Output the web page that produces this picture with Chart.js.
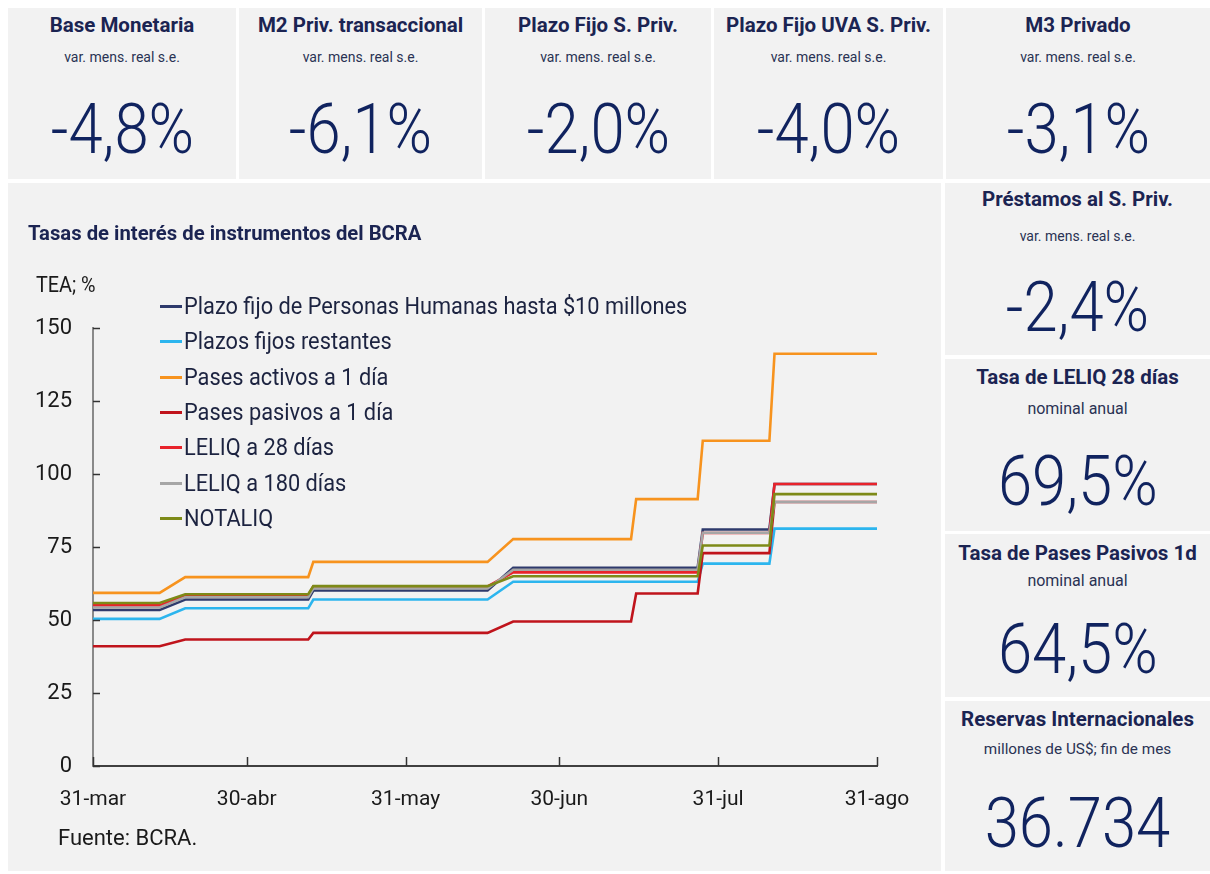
<!DOCTYPE html>
<html lang="es">
<head>
<meta charset="utf-8">
<script src="https://cdn.jsdelivr.net/npm/chart.js@4/dist/chart.umd.min.js"></script>
<style>
  html, body { margin: 0; padding: 0; background: #fff; }
  body { width: 1210px; height: 874px; position: relative; overflow: hidden; font-family: Roboto, "Noto Sans", sans-serif; }
  .card { position: absolute; background: #f2f2f2; }
  .line { position: absolute; left: 0; width: 100%; text-align: center; line-height: 1; white-space: nowrap; }
  .line span { display: inline-block; transform-origin: center; }
  .ttl { font-weight: 700; color: #1b2452; }
  .sub { color: #2a3354; }
  .num { font-weight: 300; color: #10235f; }
  .num span { transform: scaleX(0.88); }
  #panel { position: absolute; left: 8px; top: 183px; width: 933px; height: 688px; background: #f2f2f2; }
  #chartBox { position: absolute; left: 0; top: 0; width: 933px; height: 688px; }
  .lbl { position: absolute; white-space: nowrap; line-height: 1; transform-origin: left center; }
  #legend { position: absolute; left: 152px; top: 106px; }
  #legend .row { height: 35.3px; display: flex; align-items: center; font-size: 23px; color: #1c2340; white-space: nowrap; }
  #legend .sw { width: 22px; height: 3px; margin-right: 2px; }
  #legend .tx { display: inline-block; transform: scaleX(0.947); transform-origin: left center; }
</style>
</head>
<body>
<div id="cards"></div>
<div id="panel">
  <div id="chartBox"><canvas id="chart"></canvas></div>
  <div class="lbl" style="left:20px;top:40px;font-size:20.3px;font-weight:700;color:#1b2452">Tasas de interés de instrumentos del BCRA</div>
  <div class="lbl" style="left:28px;top:91px;font-size:22px;color:#1a1a1a;transform:scaleX(0.9)">TEA; %</div>
  <div class="lbl" style="left:50px;top:644px;font-size:22px;color:#1a1a1a">Fuente: BCRA.</div>
  <div id="legend"></div>
</div>
<script>
// eje x: días desde el 31-mar
const tickDays = [0, 30, 61, 91, 122, 153];
const tickLabels = ['31-mar', '30-abr', '31-may', '30-jun', '31-jul', '31-ago'];
const yTicks = [0, 25, 50, 75, 100, 125, 150];

// puntos de quiebre de las series escalonadas (días)
const days = [0, 13, 18, 42, 43, 77, 82, 105, 106, 118, 119, 132, 133, 153];

// TEA, %
const pfHumanas    = [53.4, 53.4, 57.0, 57.0, 60.1, 60.1, 67.9, 67.9, 67.9, 67.9, 81.0, 81.0, 96.6, 96.6];
const pfRestantes  = [50.4, 50.4, 54.0, 54.0, 57.0, 57.0, 63.1, 63.1, 63.1, 63.1, 69.3, 69.3, 81.3, 81.3];
const pasesActivos = [59.3, 59.3, 64.7, 64.7, 69.9, 69.9, 77.7, 77.7, 91.4, 91.4, 111.4, 111.4, 141.2, 141.2];
const pasesPasivos = [41.0, 41.0, 43.3, 43.3, 45.6, 45.6, 49.5, 49.5, 59.1, 59.1, 72.9, 72.9, 90.4, 90.4];
const leliq28      = [55.0, 55.0, 58.5, 58.5, 61.5, 61.5, 66.3, 66.3, 66.3, 66.3, 79.8, 79.8, 96.6, 96.6];
const leliq180     = [54.3, 54.3, 57.8, 57.8, 60.8, 60.8, 67.2, 67.2, 67.2, 67.2, 79.9, 79.9, 90.4, 90.4];
const notaliq      = [55.8, 55.8, 58.8, 58.8, 61.6, 61.6, 65.0, 65.0, 65.0, 65.0, 75.5, 75.5, 93.1, 93.1];

const seriesNames = [
  'Plazo fijo de Personas Humanas hasta $10 millones',
  'Plazos fijos restantes',
  'Pases activos a 1 día',
  'Pases pasivos a 1 día',
  'LELIQ a 28 días',
  'LELIQ a 180 días',
  'NOTALIQ'
];
const seriesValues = [pfHumanas, pfRestantes, pasesActivos, pasesPasivos, leliq28, leliq180, notaliq];
const seriesColors = ['#2e3a6c', '#2cb5ee', '#f7931e', '#c0141c', '#e8232b', '#a6a6a6', '#7d8a18'];

// tarjetas de indicadores
const cardTitles = ['Base Monetaria', 'M2 Priv. transaccional', 'Plazo Fijo S. Priv.', 'Plazo Fijo UVA S. Priv.', 'M3 Privado',
                    'Préstamos al S. Priv.', 'Tasa de LELIQ 28 días', 'Tasa de Pases Pasivos 1d', 'Reservas Internacionales'];
const cardSubs = ['var. mens. real s.e.', 'var. mens. real s.e.', 'var. mens. real s.e.', 'var. mens. real s.e.', 'var. mens. real s.e.',
                  'var. mens. real s.e.', 'nominal anual', 'nominal anual', 'millones de US$; fin de mes'];
const cardValues = ['-4,8%', '-6,1%', '-2,0%', '-4,0%', '-3,1%', '-2,4%', '69,5%', '64,5%', '36.734'];

// caja de cada tarjeta: [x, y, ancho, alto]
const cardBoxes = [
  [8, 8, 228, 171], [239, 8, 243, 171], [485, 8, 226, 171], [714, 8, 229, 171], [946, 8, 264, 171],
  [945, 183, 265, 172], [945, 359, 265, 172], [945, 534, 265, 163], [945, 701, 265, 170]
];
// centros verticales (desde el borde superior): título, subtítulo, cifra
const cardOffsets = [
  [17, 49, 120], [17, 49, 120], [17, 49, 120], [17, 49, 120], [17, 49, 120],
  [16, 53, 123], [18, 50, 121], [19, 47, 114], [18, 48, 121]
];
// tamaños de letra: título, subtítulo, cifra
const cardFonts = [
  [20.5, 14, 70], [20.5, 14, 70], [20.5, 14, 70], [20.5, 14, 70], [20.5, 14, 70],
  [20.5, 14, 70], [20.5, 16, 70], [20.5, 16, 70], [20.5, 15.3, 70]
];

const cardsEl = document.getElementById('cards');
cardBoxes.forEach((b, i) => {
  const c = document.createElement('div');
  c.className = 'card';
  c.style.left = b[0] + 'px'; c.style.top = b[1] + 'px';
  c.style.width = b[2] + 'px'; c.style.height = b[3] + 'px';
  const o = cardOffsets[i], f = cardFonts[i];
  const parts = [['ttl', cardTitles[i], f[0], o[0]], ['sub', cardSubs[i], f[1], o[1]], ['num', cardValues[i], f[2], o[2]]];
  parts.forEach(p => {
    const d = document.createElement('div');
    d.className = 'line ' + p[0];
    d.style.fontSize = p[2] + 'px';
    d.style.top = (p[3] - p[2] * 0.49) + 'px';
    const s = document.createElement('span');
    s.textContent = p[1];
    d.appendChild(s);
    c.appendChild(d);
  });
  cardsEl.appendChild(c);
});

// marcas de graduación hacia adentro, como en el original
const innerTicks = {
  id: 'innerTicks',
  afterDatasetsDraw(chart) {
    const ctx = chart.ctx;
    const x = chart.scales.x, y = chart.scales.y;
    ctx.save();
    ctx.strokeStyle = '#333';
    ctx.lineWidth = 1.5;
    yTicks.forEach(v => {
      const py = Math.round(y.getPixelForValue(v)) + 0.5;
      ctx.beginPath(); ctx.moveTo(x.left, py); ctx.lineTo(x.left + 7, py); ctx.stroke();
    });
    tickDays.forEach(v => {
      const px = Math.round(x.getPixelForValue(v)) + 0.5;
      ctx.beginPath(); ctx.moveTo(px, y.bottom); ctx.lineTo(px, y.bottom - 9); ctx.stroke();
    });
    ctx.restore();
  }
};

const datasets = seriesNames.map((name, i) => ({
  label: name,
  data: days.map((d, k) => ({ x: d, y: seriesValues[i][k] })),
  borderColor: seriesColors[i],
  backgroundColor: seriesColors[i],
  borderWidth: 2.6,
  pointRadius: 0,
  tension: 0,
  fill: false,
  order: seriesNames.length - i // las últimas series quedan arriba
}));

const chart = new Chart(document.getElementById('chart'), {
  type: 'line',
  data: { datasets },
  options: {
    responsive: true,
    maintainAspectRatio: false,
    animation: false,
    layout: { padding: { left: 0, right: 64, top: 145, bottom: 0 } },
    plugins: {
      legend: { display: false },
      tooltip: { enabled: false }
    },
    scales: {
      x: {
        type: 'linear',
        min: 0,
        max: 153,
        afterBuildTicks: (s) => { s.ticks = tickDays.map(v => ({ value: v })); },
        afterFit: (s) => { s.height = 105; },
        grid: { display: false, drawTicks: false },
        border: { display: true, color: '#404040', width: 2 },
        ticks: {
          autoSkip: false, maxRotation: 0, minRotation: 0, padding: 21,
          color: '#1a1a1a', font: { family: 'Roboto', size: 21 },
          callback: (v) => tickLabels[tickDays.indexOf(v)]
        }
      },
      y: {
        min: 0,
        max: 150,
        afterBuildTicks: (s) => { s.ticks = yTicks.map(v => ({ value: v })); },
        afterFit: (s) => { s.width = 85; },
        grid: { display: false, drawTicks: false },
        border: { display: true, color: '#8a8a8a', width: 2 },
        ticks: { padding: 21, color: '#1a1a1a', font: { family: 'Roboto', size: 22 } }
      }
    }
  },
  plugins: [innerTicks]
});

// leyenda en HTML, en el orden de las series
const legendEl = document.getElementById('legend');
chart.data.datasets.forEach(ds => {
  const row = document.createElement('div');
  row.className = 'row';
  const sw = document.createElement('span');
  sw.className = 'sw';
  sw.style.background = ds.borderColor;
  const tx = document.createElement('span');
  tx.className = 'tx';
  tx.textContent = ds.label;
  row.appendChild(sw);
  row.appendChild(tx);
  legendEl.appendChild(row);
});
</script>
</body>
</html>
